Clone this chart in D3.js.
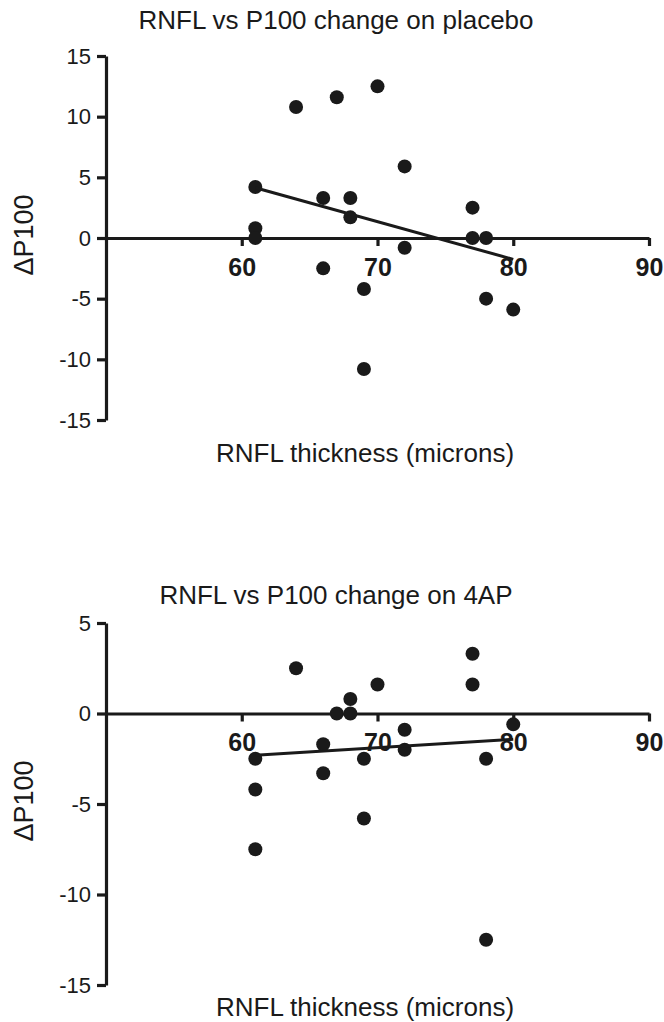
<!DOCTYPE html>
<html>
<head>
<meta charset="utf-8">
<script src="https://cdn.jsdelivr.net/npm/d3@7"></script>
<style>
  body { margin: 0; background: #fff; }
  svg text { font-family: "Liberation Sans", Arial, sans-serif; fill: #1a1a1a; }
</style>
</head>
<body>
<svg id="chart"></svg>
<script>
// RNFL thickness per eye (same eyes in both panels)
const rnfl = [61, 61, 61, 64, 66, 66, 67, 68, 68, 69, 69, 70, 72, 72, 77, 77, 78, 78, 80];
// P100 change on placebo
const placeboChange = [4.2, 0.8, 0, 10.8, 3.3, -2.5, 11.6, 3.3, 1.7, -4.2, -10.8, 12.5, 5.9, -0.8, 2.5, 0, 0, -5, -5.9];
// P100 change on 4AP
const apChange = [-2.5, -4.2, -7.5, 2.5, -1.7, -3.3, 0, 0.8, 0, -2.5, -5.8, 1.6, -0.9, -2.0, 3.3, 1.6, -2.5, -12.5, -0.6];

const xTicks = [60, 70, 80, 90];
const yTicksPlacebo = [-15, -10, -5, 0, 5, 10, 15];
const yTicks4AP = [-15, -10, -5, 0, 5];

const width = 664, height = 1022;
const ink = "#1a1a1a";

const svg = d3.select("#chart")
    .attr("width", width)
    .attr("height", height);

// least squares fit, drawn over the range of x
function fit(xs, ys) {
    const mx = d3.mean(xs), my = d3.mean(ys);
    const sxy = d3.sum(xs, (x, i) => (x - mx) * (ys[i] - my));
    const sxx = d3.sum(xs, x => (x - mx) * (x - mx));
    const b = sxy / sxx;
    return x => my + b * (x - mx);
}

function panel(o) {
    const x = d3.scaleLinear().domain([50, 90]).range([106, 649]);
    const y = d3.scaleLinear().domain(d3.extent(o.yTicks)).range([o.bottom, o.top]);
    const g = svg.append("g");

    // points
    g.append("g")
        .selectAll("circle")
        .data(o.ys)
        .enter().append("circle")
        .attr("cx", (d, i) => x(rnfl[i]))
        .attr("cy", d => y(d))
        .attr("r", 7)
        .attr("fill", ink);

    // regression line
    const f = fit(rnfl, o.ys);
    const [x0, x1] = d3.extent(rnfl);
    g.append("line")
        .attr("x1", x(x0)).attr("y1", y(f(x0)))
        .attr("x2", x(x1)).attr("y2", y(f(x1)))
        .attr("stroke", ink)
        .attr("stroke-width", 3);

    // y axis
    const ya = g.append("g")
        .attr("transform", `translate(${x(50)},0)`)
        .call(d3.axisLeft(y).tickValues(o.yTicks).tickFormat(d => String(d))
            .tickSize(9).tickSizeOuter(0).tickPadding(6));
    ya.selectAll("text").attr("font-size", 22).attr("font-family", null);

    // x axis through zero
    const xa = g.append("g")
        .attr("transform", `translate(0,${y(0)})`)
        .call(d3.axisBottom(x).tickValues(xTicks).tickFormat(d => String(d))
            .tickSize(8).tickSizeOuter(0).tickPadding(12));
    xa.selectAll("text").attr("font-size", 25).attr("font-weight", "bold").attr("font-family", null);

    [ya, xa].forEach(a => {
        a.selectAll("path, line").attr("stroke", ink).attr("stroke-width", 3.2);
    });

    // titles
    g.append("text")
        .attr("x", 336).attr("y", o.titleY)
        .attr("text-anchor", "middle")
        .attr("font-size", 26)
        .text(o.title);

    g.append("text")
        .attr("x", 365).attr("y", o.xLabelY)
        .attr("text-anchor", "middle")
        .attr("font-size", 26)
        .text("RNFL thickness (microns)");

    g.append("text")
        .attr("transform", `translate(33,${(o.top + o.bottom) / 2 - 3}) rotate(-90)`)
        .attr("text-anchor", "middle")
        .attr("font-size", 27)
        .text("ΔP100");
}

panel({
    title: "RNFL vs P100 change on placebo",
    ys: placeboChange,
    yTicks: yTicksPlacebo,
    top: 56, bottom: 420,
    titleY: 29, xLabelY: 462
});

panel({
    title: "RNFL vs P100 change on 4AP",
    ys: apChange,
    yTicks: yTicks4AP,
    top: 623, bottom: 985,
    titleY: 604, xLabelY: 1016
});
</script>
</body>
</html>
